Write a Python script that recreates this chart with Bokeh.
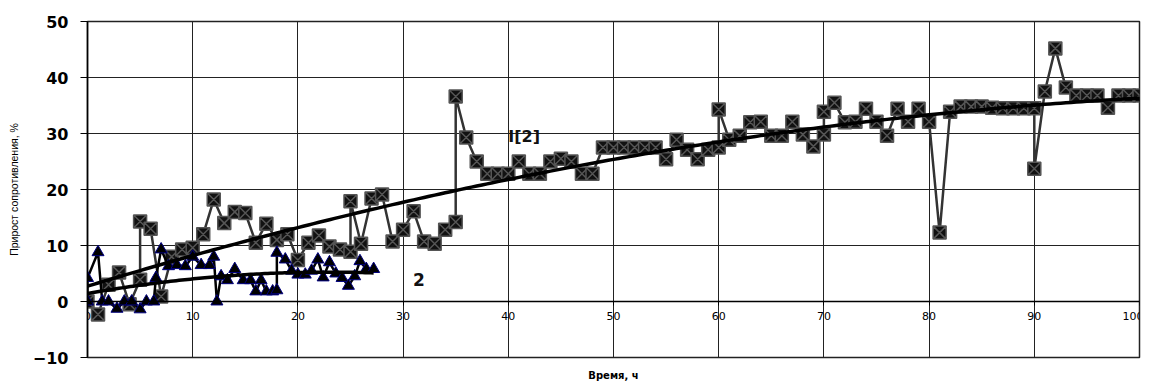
import numpy as np
from bokeh.plotting import figure
from bokeh.models import Range1d, LinearAxis, FixedTicker, Label
from bokeh.embed import file_html
from bokeh.resources import INLINE

# Series 1 (squares with X)
s1_x = [0, 1, 2, 3, 4, 5, 5, 6, 7, 8, 9, 10, 11, 12, 13, 14, 15, 16, 17, 18, 19, 20,
        21, 22, 23, 24, 25, 25, 26, 27, 28, 29, 30, 31, 32, 33, 34, 35, 35, 36, 37, 38,
        39, 40, 41, 42, 43, 44, 45, 46, 47, 48, 49, 50, 51, 52, 53, 54, 55, 56, 57, 58,
        59, 60, 60, 61, 62, 63, 64, 65, 66, 67, 68, 69, 70, 70, 71, 72, 73, 74, 75, 76,
        77, 78, 79, 80, 81, 82, 83, 84, 85, 86, 87, 88, 89, 90, 90, 91, 92, 93, 94, 95,
        96, 97, 98, 99, 100]
s1_y = [0, -2.3, 3.0, 5.2, -0.5, 3.9, 14.3, 13.0, 0.9, 8.0, 9.3, 9.6, 12.0, 18.2, 14.0,
        16.0, 15.8, 10.5, 13.9, 11.0, 12.0, 7.4, 10.5, 11.8, 9.8, 9.3, 8.9, 17.9, 10.3,
        18.4, 19.1, 10.7, 12.8, 16.1, 10.7, 10.3, 12.8, 14.2, 36.6, 29.3, 25.0, 22.8,
        22.8, 22.8, 25.0, 22.8, 22.8, 25.0, 25.5, 25.0, 22.8, 22.8, 27.5, 27.5, 27.5,
        27.5, 27.5, 27.5, 25.4, 28.9, 27.1, 25.4, 27.1, 27.5, 34.3, 28.9, 29.6, 32.0,
        32.1, 29.6, 29.6, 32.1, 29.8, 27.7, 29.8, 33.9, 35.5, 32.0, 32.1, 34.4, 32.1,
        29.6, 34.4, 32.1, 34.4, 32.1, 12.3, 33.9, 34.8, 34.8, 34.8, 34.6, 34.5, 34.5,
        34.5, 34.5, 23.7, 37.5, 45.2, 38.2, 36.8, 36.8, 36.8, 34.6, 36.8, 36.8, 36.8]

# Series 2 (triangles)
s2_x = [0, 0, 1, 1.4, 2, 2.8, 3.5, 4.2, 5, 5.6, 6.3, 6.5, 7, 7.7, 8.5, 9.3, 10, 10.8,
        11.6, 12, 12.3, 12.7, 13.3, 14, 14.8, 15.5, 16, 16.5, 17, 17.6, 18, 18, 18.8,
        19.4, 20, 20.7, 21.3, 21.9, 22.4, 23, 23.6, 24.2, 24.8, 25.4, 25.9, 26.5, 27.2]
s2_y = [0, 4.2, 8.8, 0, 0, -1.3, 0, 0, -1.4, 0, 0, 4.2, 9.3, 6.3, 6.5, 6.3, 8.0, 6.5,
        6.5, 8.0, 0, 4.5, 3.8, 5.8, 3.8, 3.8, 1.8, 3.8, 1.8, 1.8, 2.0, 8.7, 7.5, 5.5,
        4.8, 4.8, 5.5, 7.5, 4.3, 7.0, 5.0, 4.2, 2.8, 4.5, 7.2, 5.8, 5.8]

x_ticks = [0, 10, 20, 30, 40, 50, 60, 70, 80, 90, 100]
y_ticks = [-10, 0, 10, 20, 30, 40, 50]

label1 = "I[2]"
label2 = "2"

# polynomial (2nd order) trend lines, as in the source chart
c1 = np.polyfit(s1_x, s1_y, 2)
t1_x = np.linspace(0, 100, 201)
t1_y = np.polyval(c1, t1_x)
c2 = np.polyfit(s2_x, s2_y, 2)
t2_x = np.linspace(0, max(s2_x), 101)
t2_y = np.polyval(c2, t2_x)

p = figure(width=1144, height=383, output_backend="svg", toolbar_location=None,
           x_range=Range1d(0, 100), y_range=Range1d(-10, 50),
           min_border_left=87, min_border_top=21, min_border_right=5,
           min_border_bottom=25)
p.background_fill_color = "white"
p.border_fill_color = "white"
p.outline_line_color = "#222222"
p.outline_line_width = 1.5

# x axis crossing at y = 0
last_tick = x_ticks[-1]
xa = p.xaxis[0]
xa.fixed_location = 0
xa.ticker = FixedTicker(ticks=x_ticks)
xa.major_label_overrides = {last_tick: ""}
xa.axis_line_color = "black"
xa.axis_line_width = 1.5
xa.major_tick_in = 0
xa.major_tick_out = 4
xa.minor_tick_line_color = None
xa.major_label_standoff = 6
xa.major_label_text_font = "DejaVu Sans"
xa.major_label_text_font_size = "11px"
xa.major_label_text_color = "black"

# last tick label would run past the right edge of the page: keep it inside
p.add_layout(Label(x=last_tick, y=0, text=str(last_tick), x_offset=4, y_offset=-10,
                   text_font="DejaVu Sans", text_font_size="11px",
                   text_color="black", text_align="right", text_baseline="top"))

# separate axis for the x title at the bottom
xt = LinearAxis(ticker=FixedTicker(ticks=[]), axis_label="Время, ч",
                axis_line_color=None, major_tick_line_color=None,
                minor_tick_line_color=None, major_label_text_font_size="0px",
                major_tick_in=0, major_tick_out=0, major_label_standoff=0,
                axis_label_standoff=12, axis_label_text_font="DejaVu Sans",
                axis_label_text_font_style="bold", axis_label_text_font_size="10px",
                axis_label_text_color="black")
p.add_layout(xt, "below")

ya = p.yaxis[0]
ya.ticker = FixedTicker(ticks=y_ticks)
ya.axis_line_color = "black"
ya.axis_line_width = 1.5
ya.major_tick_in = 0
ya.major_tick_out = 7
ya.minor_tick_line_color = None
ya.major_label_standoff = 12
ya.major_label_text_font = "DejaVu Sans"
ya.major_label_text_font_style = "bold"
ya.major_label_text_font_size = "16px"
ya.major_label_text_color = "black"
ya.axis_label = "Прирост сопротивления, %"
ya.axis_label_text_font = "Liberation Sans"
ya.axis_label_text_font_style = "normal"
ya.axis_label_text_font_size = "10.5px"
ya.axis_label_text_color = "black"
ya.axis_label_standoff = 10

p.xgrid.ticker = FixedTicker(ticks=x_ticks)
p.ygrid.ticker = FixedTicker(ticks=y_ticks)
for g in (p.xgrid[0], p.ygrid[0]):
    g.grid_line_color = "#222222"
    g.grid_line_width = 1
    g.grid_line_alpha = 1.0

# series 1
p.line(s1_x, s1_y, line_color="#333333", line_width=2.5)
p.scatter(s1_x, s1_y, marker="square_x", size=13, fill_color="#111111",
          line_color="#555555", line_width=1.5)

# series 2
p.line(s2_x, s2_y, line_color="black", line_width=2.5)
p.scatter(s2_x, s2_y, marker="triangle", size=12, fill_color="black",
          line_color="#000080", line_width=1)

# trend lines
p.line(t1_x, t1_y, line_color="black", line_width=3.5)
p.line(t2_x, t2_y, line_color="black", line_width=3.5)

p.add_layout(Label(x=40, y=29.5, text=label1, text_font="DejaVu Sans",
                   text_font_style="bold", text_font_size="16px",
                   text_color="#111111", text_baseline="middle", text_align="left"))
p.add_layout(Label(x=31.5, y=3.9, text=label2, text_font="DejaVu Sans",
                   text_font_style="bold", text_font_size="17px",
                   text_color="#111111", text_baseline="middle", text_align="center"))

open("out.html", "w").write(file_html(p, INLINE))
